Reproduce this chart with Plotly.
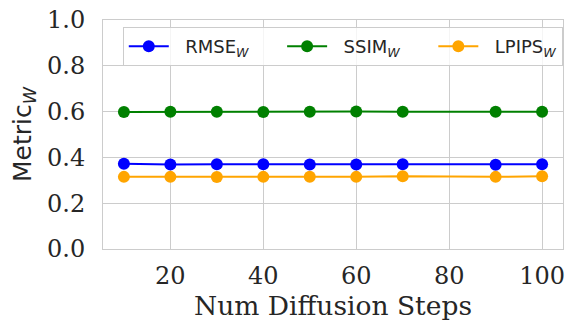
import plotly.graph_objects as go

steps = [10, 20, 30, 40, 50, 60, 70, 90, 100]
rmse = [0.372, 0.369, 0.370, 0.370, 0.369, 0.369, 0.370, 0.368, 0.370]
ssim = [0.598, 0.599, 0.599, 0.598, 0.599, 0.600, 0.599, 0.599, 0.599]
lpips = [0.315, 0.315, 0.314, 0.315, 0.316, 0.315, 0.318, 0.315, 0.318]

NB = "\u00a0"
series = [
    (NB * 2 + "RMSE<sub><i>W</i></sub>" + NB * 5, rmse, "#0000ff"),
    (NB * 2 + "SSIM<sub><i>W</i></sub>" + NB * 5, ssim, "#008000"),
    (NB * 2 + "LPIPS<sub><i>W</i></sub>", lpips, "#ffa500"),
]

fig = go.Figure()
for name, vals, col in series:
    fig.add_trace(go.Scatter(
        x=steps, y=vals, name=name, mode="lines+markers",
        line=dict(color=col, width=2),
        marker=dict(color=col, size=12),
    ))

serif = "DejaVu Serif"
sans = "DejaVu Sans"
txt = "#262626"

fig.update_layout(
    width=571, height=328,
    margin=dict(l=103, r=6, t=20, b=79),
    paper_bgcolor="white", plot_bgcolor="white",
    showlegend=True,
    legend=dict(
        orientation="h", x=0.043, y=0.969, xanchor="left", yanchor="top",
        bgcolor="rgba(255,255,255,0.8)", bordercolor="#cccccc", borderwidth=1,
        font=dict(family=sans, size=18, color=txt),
        itemwidth=40,
    ),
    xaxis=dict(
        range=[5.5, 104.5], tickvals=[20, 40, 60, 80, 100],
        showgrid=True, gridcolor="#cccccc", gridwidth=1,
        showline=True, linecolor="#cccccc", mirror=True, zeroline=False,
        tickfont=dict(family=serif, size=24, color=txt),
        ticklabelstandoff=5,
        title=dict(text="Num Diffusion Steps", font=dict(family=serif, size=26.5, color=txt), standoff=6),
        ticks="",
    ),
    yaxis=dict(
        range=[0, 1], tickvals=[0, 0.2, 0.4, 0.6, 0.8, 1.0], tickformat=".1f",
        showgrid=True, gridcolor="#cccccc", gridwidth=1,
        showline=True, linecolor="#cccccc", mirror=True, zeroline=False,
        tickfont=dict(family=serif, size=24, color=txt),
        ticklabelstandoff=12,
        title=dict(text="Metric<sub><i>W</i></sub>", font=dict(family=sans, size=25, color=txt), standoff=8),
        ticks="",
    ),
)

fig.write_html("out.html", config={"displayModeBar": False},
               post_script="document.body.style.margin='0';")
